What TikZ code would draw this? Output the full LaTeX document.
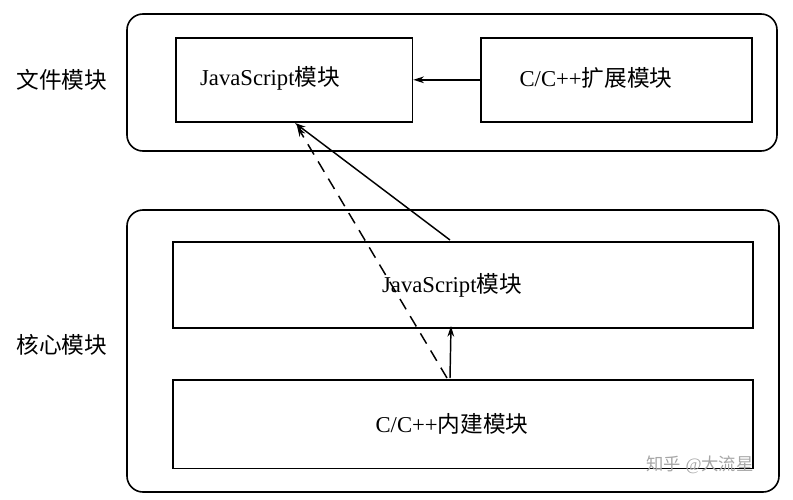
\documentclass[tikz,border=0pt]{standalone}
\usepackage{fontspec}
\setmainfont{Liberation Serif}
\newfontfamily\cjk{Noto Sans CJK SC}
\usetikzlibrary{arrows.meta}
\begin{document}
\begin{tikzpicture}[x=0.75pt,y=-0.75pt,
  outer/.style={draw,line width=1.2pt,rounded corners=12pt},
  box/.style={draw,line width=1.2pt,anchor=north west,inner sep=0pt},
  lbl/.style={font=\fontsize{17}{19}\selectfont},
  arr/.style={line width=1.1pt,-{Stealth[length=8pt,width=5pt]}}]
\useasboundingbox (0,0) rectangle (793,500);
\draw[outer] (127,14) rectangle (777,151);
\draw[outer] (127,210) rectangle (779,492);
\node[box,minimum width=177.5pt,minimum height=63pt] (js1) at (175,37) {};
\node[lbl] at (270,78) {JavaScript{\cjk 模块}};
\node[box,minimum width=203.5pt,minimum height=63pt] (cext) at (480,37) {};
\node[lbl] at (596,78) {C/C++{\cjk 扩展模块}};
\node[box,minimum width=435pt,minimum height=64.5pt] (js2) at (172,241) {};
\node[lbl] at (452,285) {JavaScript{\cjk 模块}};
\node[box,minimum width=435pt,minimum height=66.5pt] (cin) at (172,379) {};
\node[lbl] at (452,424) {C/C++{\cjk 内建模块}};
\node[lbl] (f) at (62,80) {\cjk 文件模块};
\node[lbl] (h) at (62,345) {\cjk 核心模块};
\node[text=gray!70,font=\fontsize{13}{15}\selectfont] (w) at (700,465) {{\cjk 知乎} @{\cjk 大流星}};
\coordinate (a1) at (450,240);
\coordinate (a1e) at (295,123);
\coordinate (d1) at (447,378);
\coordinate (d1e) at (297,126);
\coordinate (s1) at (450,378);
\coordinate (s1e) at (451,326);
\draw[arr] (cext.west) -- (js1.east);
\draw[arr] (a1) -- (a1e);
\draw[arr,dash pattern=on 9pt off 6pt] (d1) -- (d1e);
\draw[arr] (s1) -- (s1e);
\end{tikzpicture}
\end{document}
